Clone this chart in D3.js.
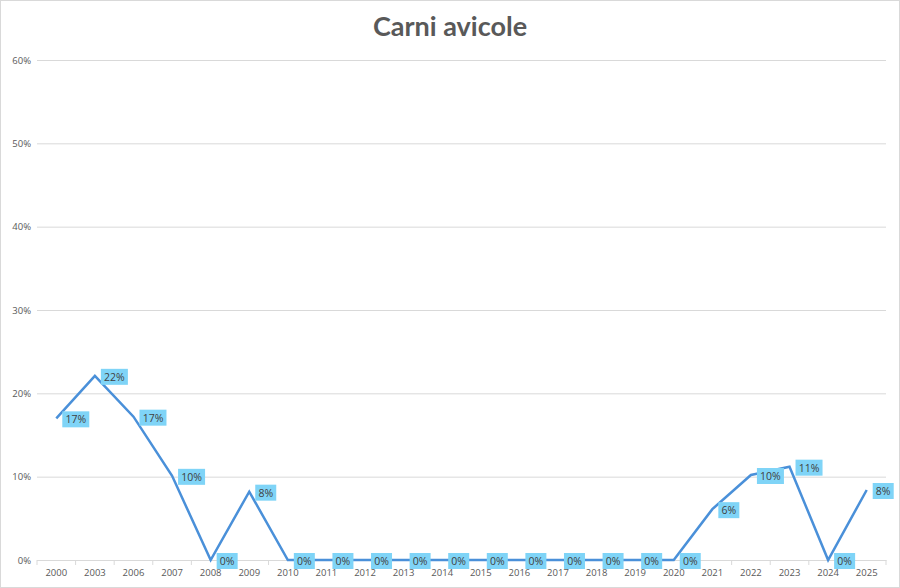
<!DOCTYPE html>
<html><head><meta charset="utf-8">
<script src="https://cdn.jsdelivr.net/npm/d3@7"></script>
<style>body{margin:0;background:#fff}svg{display:block}</style>
</head><body>
<svg id="c" width="900" height="588"></svg>
<script>
const title = "Carni avicole";
const categories = ["2000","2003","2006","2007","2008","2009","2010","2011","2012","2013","2014","2015","2016","2017","2018","2019","2020","2021","2022","2023","2024","2025"];
const values = [17.0,22.1,17.2,10.1,0,8.2,0,0,0,0,0,0,0,0,0,0,0,6.1,10.2,11.2,0,8.4];
const labels = ["17%","22%","17%","10%","0%","8%","0%","0%","0%","0%","0%","0%","0%","0%","0%","0%","0%","6%","10%","11%","0%","8%"];
const yTicks = [0,10,20,30,40,50,60];

const svg = d3.select("#c");
const W = 900, H = 588;
const m = {left:37, right:14, top:60, bottom:28};

svg.append("rect").attr("x",0.5).attr("y",0.5).attr("width",W-1).attr("height",H-1)
  .attr("fill","#fff").attr("stroke","#d9d9d9");

svg.append("text").attr("x",450).attr("y",36).attr("text-anchor","middle")
  .attr("font-family","Lato, 'Open Sans', sans-serif").attr("font-weight","bold")
  .attr("font-size",27).attr("fill","#595959").text(title);

const x = d3.scaleBand().domain(categories).range([m.left, W-m.right]);
const y = d3.scaleLinear().domain([0,60]).range([H-m.bottom, m.top]);

// gridlines
const yAxis = d3.axisLeft(y).tickValues(yTicks).tickFormat(d=>d+"%").tickSize(-(W-m.left-m.right)).tickPadding(6);
const gy = svg.append("g").attr("transform",`translate(${m.left},0)`).call(yAxis);
gy.select(".domain").remove();
gy.selectAll(".tick line").attr("stroke","#d9d9d9").attr("stroke-width",1);
gy.selectAll(".tick text").attr("font-family","'Open Sans', sans-serif").attr("font-size",9.5).attr("fill","#595959");

// x axis
const gx = svg.append("g").attr("transform",`translate(0,${y(0)})`)
  .call(d3.axisBottom(x).tickSize(0).tickPadding(9));
gx.select(".domain").attr("stroke","#d9d9d9");
gx.selectAll(".tick text").attr("font-family","'Open Sans', sans-serif").attr("font-size",9.5).attr("fill","#595959");
// tick marks at band boundaries
const bounds = categories.map(c=>x(c)).concat([x(categories[categories.length-1])+x.bandwidth()]);
svg.append("g").selectAll("line").data(bounds).join("line")
  .attr("x1",d=>d).attr("x2",d=>d).attr("y1",y(0)).attr("y2",y(0)+5)
  .attr("stroke","#d9d9d9");

const cx = c => x(c)+x.bandwidth()/2;
const line = d3.line().x((d,i)=>cx(categories[i])).y(d=>y(d));
svg.append("path").datum(values).attr("d",line).attr("fill","none")
  .attr("stroke","#4a90d9").attr("stroke-width",2.5).attr("stroke-linejoin","miter");

// data labels
const lg = svg.append("g");
values.forEach((v,i)=>{
  const px = cx(categories[i]), py = y(v);
  const t = labels[i];
  const w = t.length===2 ? 21 : 27;
  const g = lg.append("g").attr("transform",`translate(${px+6},${py+1})`);
  g.append("rect").attr("x",0).attr("y",-8).attr("width",w).attr("height",16).attr("fill","#7fd4f7");
  g.append("text").attr("x",w/2).attr("y",4).attr("text-anchor","middle")
    .attr("font-family","'Open Sans', sans-serif").attr("font-size",10.5).attr("fill","#404040").text(t);
});
</script>
</body></html>
